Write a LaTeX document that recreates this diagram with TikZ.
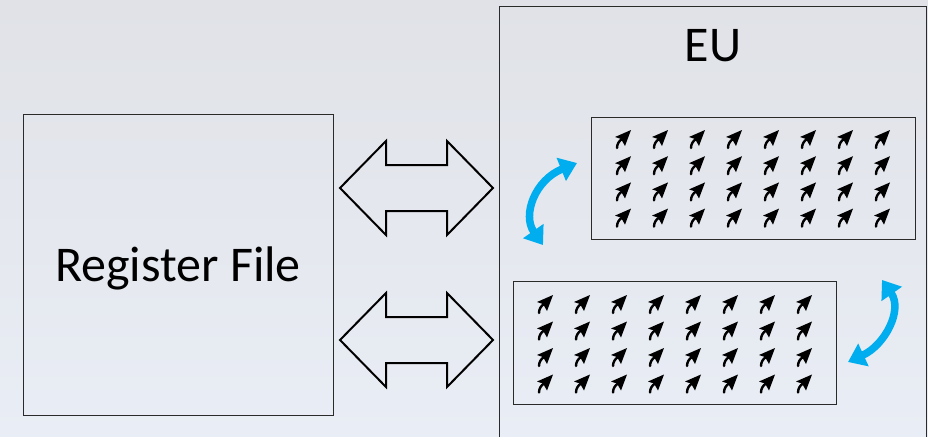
\documentclass[tikz,border=0pt]{standalone}
\usepackage{fontspec}
\setmainfont{Carlito}
\usetikzlibrary{arrows.meta}
\definecolor{bgtop}{HTML}{E0E2E7}
\definecolor{bgbot}{HTML}{E9EDF5}
\definecolor{edge}{HTML}{2A2A2A}
\definecolor{flow}{HTML}{00AEEF}
\tikzset{
  panel/.style={draw=edge, line width=1pt, inner sep=0pt, fill=none},
  blockarrow/.style={draw=black, line width=2pt, fill=none, line join=miter},
  swap/.style={draw=flow, line width=7.5pt,
    {Triangle[width=24pt,length=17pt]}-{Triangle[width=24pt,length=17pt]}},
  tinyarr/.pic={
    \draw[line width=2.4pt, line cap=round] (-6,10) .. controls (-6,6) and (-4,3) .. (-1,1);
    \fill (8,-8) -- (-8,-1) -- (-2,1) -- (2,8) -- cycle;
  }
}
\begin{document}
\begin{tikzpicture}[x=1pt, y=-1pt]
  % page and backdrop
  \useasboundingbox (0,0) rectangle (928,436);
  \shade[top color=bgtop, bottom color=bgbot] (0,0) rectangle (928,436);

  % main blocks
  \node[panel, minimum width=310pt, minimum height=301pt] (rf) at (178,264.5) {};
  \node[font=\fontsize{50}{50}\selectfont] (rflabel) at (178,268) {Register File};
  \node[panel, minimum width=427pt, minimum height=433pt] (eu) at (712.5,223.5) {};
  \node[font=\fontsize{50}{50}\selectfont] (eulabel) at (713,46) {EU};

  % lane groups inside the EU
  \node[panel, minimum width=324pt, minimum height=122pt] (lanesA) at (753,178) {};
  \node[panel, minimum width=323pt, minimum height=123pt] (lanesB) at (674.5,342.5) {};

  \foreach \c in {0,...,7}{
    \foreach \r in {0,...,3}{
      \pic at ({623+37*\c},{138+26.2*\r}) {tinyarr};
      \pic at ({545+37*\c},{303+26.5*\r}) {tinyarr};
    }
  }

  % wide two-way data paths between register file and EU
  \foreach \yc in {188,340}{
    \draw[blockarrow] (340,\yc) -- (386,{\yc-47}) -- (386,{\yc-23}) -- (447,{\yc-23})
      -- (447,{\yc-47}) -- (493,\yc) -- (447,{\yc+47}) -- (447,{\yc+23})
      -- (386,{\yc+23}) -- (386,{\yc+47}) -- cycle;
  }

  % exchange arrows next to each lane group
  \coordinate (sa1) at (543,245);
  \coordinate (sa2) at (577,163);
  \draw[swap] (sa1) .. controls (522,215) and (535,180) .. (sa2);
  \coordinate (sb1) at (882,280);
  \coordinate (sb2) at (848,362);
  \draw[swap] (sb1) .. controls (903,310) and (885,345) .. (sb2);
\end{tikzpicture}
\end{document}
